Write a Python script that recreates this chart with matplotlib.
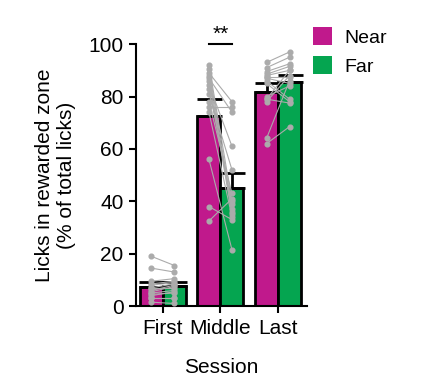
import matplotlib
matplotlib.use("Agg")
import matplotlib.pyplot as plt
from matplotlib.patches import Patch
import numpy as np

plt.rcParams['font.family'] = ['Liberation Sans', 'DejaVu Sans']
plt.rcParams['font.size'] = 15

sessions = ["First", "Middle", "Last"]
near_mean = [7.4, 72.6, 81.8]
far_mean = [7.6, 45.2, 85.4]
near_sem = [1.7, 6.3, 3.2]
far_sem = [1.5, 5.7, 2.8]

# paired per-animal values (near, far) for each session
first_near = [19, 14.5, 9.5, 8.5, 7, 5.5, 4, 3, 1.5, 8, 7, 5, 6, 4.5, 3]
first_far = [15.5, 13, 10.5, 9.5, 8.5, 7.5, 5.5, 3, 1, 9, 7, 6, 8, 5, 3]
middle_near = [92, 90.5, 89, 88, 87, 86, 84.5, 83, 81, 78, 76, 74, 56, 38, 32.5]
middle_far = [40, 37, 78, 36, 74, 35, 61, 39, 52, 43, 76, 34, 21.5, 33, 41]
last_near = [93, 91, 89.5, 88.5, 88, 87.5, 87, 86, 85, 79, 79, 78, 64, 62, 80]
last_far = [97, 95, 92.5, 91.5, 90, 87.5, 85, 79, 78, 77.5, 90, 88, 86, 68.5, 84]

near_col = "#c0198c"
far_col = "#05a550"
pt_col = "#ababab"

fig = plt.figure(figsize=(4.22, 3.87), dpi=100)
ax = fig.add_axes([0.322, 0.209, 0.405, 0.677])

x = np.arange(len(sessions))
w = 0.4
ax.bar(x - w/2, near_mean, w, color=near_col, edgecolor="black", linewidth=2, zorder=2)
ax.bar(x + w/2, far_mean, w, color=far_col, edgecolor="black", linewidth=2, zorder=2)
ax.errorbar(x - w/2, near_mean, yerr=[[0]*3, near_sem], fmt="none", ecolor="black",
            elinewidth=2, capsize=9, capthick=2, zorder=3)
ax.errorbar(x + w/2, far_mean, yerr=[[0]*3, far_sem], fmt="none", ecolor="black",
            elinewidth=2, capsize=9, capthick=2, zorder=3)

pairs = [(first_near, first_far), (middle_near, middle_far), (last_near, last_far)]
for i, (nv, fv) in enumerate(pairs):
    for a, b in zip(nv, fv):
        ax.plot([i - w/2, i + w/2], [a, b], color=pt_col, lw=0.8, marker="o",
                markersize=3.4, zorder=4)

# significance
ax.plot([1 - w/2, 1 + w/2], [100, 100], color="black", lw=1.5, clip_on=False)
ax.text(1, 100.3, "**", ha="center", va="bottom", fontsize=15)

ax.set_xlim(-0.47, 2.5)
ax.set_ylim(0, 100)
ax.set_yticks([0, 20, 40, 60, 80, 100])
ax.set_xticks(x)
ax.set_xticklabels(sessions)
ax.spines["top"].set_visible(False)
ax.spines["right"].set_visible(False)
ax.spines["left"].set_linewidth(1.5)
ax.spines["bottom"].set_linewidth(1.5)
ax.tick_params(width=1.5, length=5, labelsize=15, pad=4)
ax.set_xlabel("Session", fontsize=15, labelpad=15)
ax.set_ylabel("Licks in rewarded zone\n(% of total licks)", fontsize=15, labelpad=9)

handles = [Patch(facecolor=near_col, label="Near"), Patch(facecolor=far_col, label="Far")]
fig.legend(handles=handles, loc="upper left", bbox_to_anchor=(0.70, 0.975), frameon=False,
           fontsize=14, handlelength=1.0, handleheight=1.0, handletextpad=0.6,
           labelspacing=0.5)

fig.savefig("out.png", dpi=100)
